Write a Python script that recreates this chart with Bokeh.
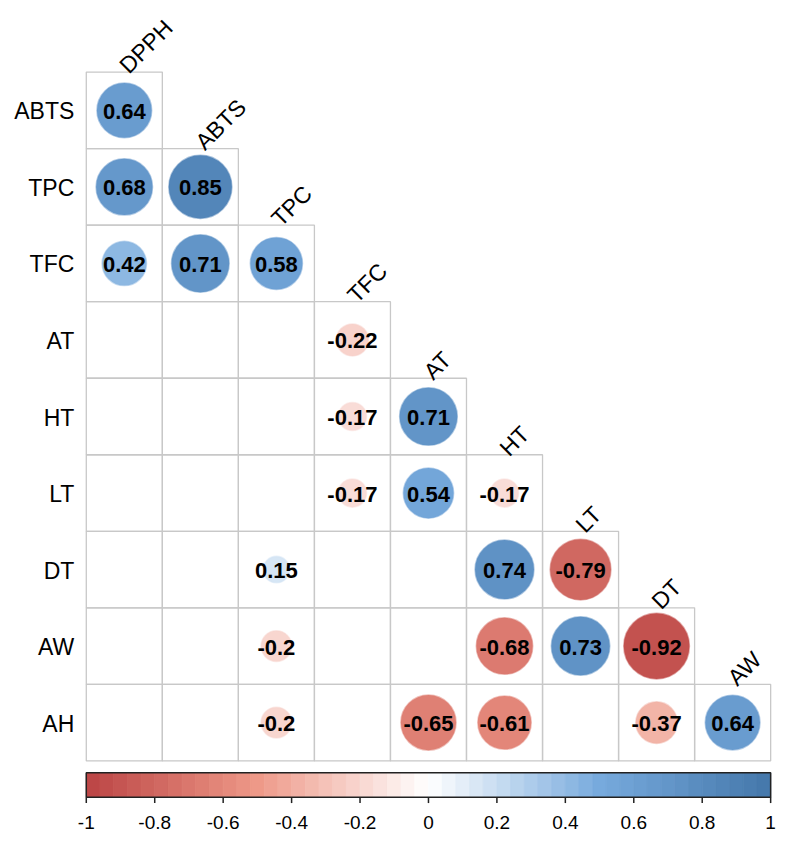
import numpy as np
from bokeh.plotting import figure
from bokeh.models import ColumnDataSource, Range1d
from bokeh.core.properties import value
from bokeh.embed import file_html
from bokeh.resources import INLINE

# ---- data ----
row_labels = ["ABTS", "TPC", "TFC", "AT", "HT", "LT", "DT", "AW", "AH"]
col_labels = ["DPPH", "ABTS", "TPC", "TFC", "AT", "HT", "LT", "DT", "AW"]

vals_ABTS = [0.64]
vals_TPC = [0.68, 0.85]
vals_TFC = [0.42, 0.71, 0.58]
vals_AT = [None, None, None, -0.22]
vals_HT = [None, None, None, -0.17, 0.71]
vals_LT = [None, None, None, -0.17, 0.54, -0.17]
vals_DT = [None, None, 0.15, None, None, 0.74, -0.79]
vals_AW = [None, None, -0.2, None, None, -0.68, 0.73, -0.92]
vals_AH = [None, None, -0.2, None, -0.65, -0.61, None, -0.37, 0.64]
rows_vals = [vals_ABTS, vals_TPC, vals_TFC, vals_AT, vals_HT, vals_LT, vals_DT, vals_AW, vals_AH]

cbar_ticks = [-1, -0.8, -0.6, -0.4, -0.2, 0, 0.2, 0.4, 0.6, 0.8, 1]
cbar_tick_labels = ["-1", "-0.8", "-0.6", "-0.4", "-0.2", "0", "0.2", "0.4", "0.6", "0.8", "1"]

pal_stops = ["#BB4444", "#EE9988", "#FFFFFF", "#77AADD", "#4477AA"]
pal_pos = [-1.0, -0.5, 0.0, 0.5, 1.0]


def hex2rgb(h):
    h = h.lstrip("#")
    return [int(h[i:i + 2], 16) for i in (0, 2, 4)]


stops_rgb = np.array([hex2rgb(h) for h in pal_stops], dtype=float)


def colmap(v):
    rgb = [np.interp(v, pal_pos, stops_rgb[:, k]) for k in range(3)]
    return "#%02x%02x%02x" % tuple(int(round(c)) for c in rgb)


# ---- figure (1 unit = one cell) ----
W, H = 776, 832
x0 = (0 - 88) / 78.0
x1 = (796 - 88) / 78.0
ytop = (0 - 73) / 78.0
ybot = (848 - 73) / 78.0

p = figure(width=W, height=H, output_backend="svg", toolbar_location=None,
           x_range=Range1d(x0, x1), y_range=Range1d(ybot, ytop),
           min_border=0, outline_line_color=None)
p.axis.visible = False
p.grid.visible = False
p.background_fill_color = "white"

FONT = "Liberation Sans"
CELL_PX = W / (x1 - x0)

# grid cells
gx, gy = [], []
for r in range(len(row_labels)):
    for c in range(r + 1):
        gx.append(c + 0.5)
        gy.append(r + 0.5)
p.rect(x=gx, y=gy, width=1, height=1, fill_color=None,
       line_color="#C8C8C8", line_width=1.3)

# circles and numbers
cx, cy, cs, cc, ct = [], [], [], [], []
for r, vals in enumerate(rows_vals):
    for c, v in enumerate(vals):
        if v is None:
            continue
        cx.append(c + 0.5)
        cy.append(r + 0.5)
        cs.append(0.9 * CELL_PX * np.sqrt(abs(v)))
        cc.append(colmap(v))
        ct.append(f"{v:g}")
src = ColumnDataSource(dict(x=cx, y=cy, s=cs, c=cc, t=ct))
p.scatter(x="x", y="y", size="s", fill_color="c", line_color="c",
          line_alpha=0.5, line_width=1.5, source=src)
p.text(x="x", y="y", text="t", source=src, text_font=value(FONT),
       text_font_style="bold", text_font_size="22px", text_color="black",
       text_align="center", text_baseline="middle", y_offset=1)

# row labels
p.text(x=[0] * len(row_labels), y=[r + 0.5 for r in range(len(row_labels))],
       text=row_labels, text_font=value(FONT), text_font_size="23px",
       text_color="black", text_align="right", text_baseline="middle",
       x_offset=-12, y_offset=1)

# column labels (rotated)
p.text(x=[c + 0.5 for c in range(len(col_labels))],
       y=[float(c) for c in range(len(col_labels))],
       text=col_labels, text_font=value(FONT), text_font_size="23px",
       text_color="black", text_align="left", text_baseline="alphabetic",
       angle=np.pi / 4, x_offset=-1, y_offset=-3)

# colour bar
nb = 50
edges = np.linspace(-1, 1, nb + 1)
mids = (edges[:-1] + edges[1:]) / 2
to_x = lambda v: (v + 1) / 2 * 9.0
cb_top = (787 - 73) / 78.0
cb_bot = (812 - 73) / 78.0
band_cols = [colmap(m) for m in mids]
p.quad(left=[to_x(e) for e in edges[:-1]], right=[to_x(e) for e in edges[1:]],
       top=cb_top, bottom=cb_bot, fill_color=band_cols,
       line_color=band_cols, line_width=0.8)
p.quad(left=[0], right=[9], top=cb_top, bottom=cb_bot, fill_color=None,
       line_color="#222222", line_width=1.5)
tick_len = 6 / 78.0
p.segment(x0=[to_x(t) for t in cbar_ticks], y0=cb_bot,
          x1=[to_x(t) for t in cbar_ticks], y1=cb_bot + tick_len,
          line_color="#222222", line_width=1.5)
p.text(x=[to_x(t) for t in cbar_ticks], y=[(838 - 73) / 78.0] * len(cbar_ticks),
       text=cbar_tick_labels, text_font=value(FONT), text_font_size="19px",
       text_color="black", text_align="center", text_baseline="middle")

open("out.html", "w").write(file_html(p, INLINE))
